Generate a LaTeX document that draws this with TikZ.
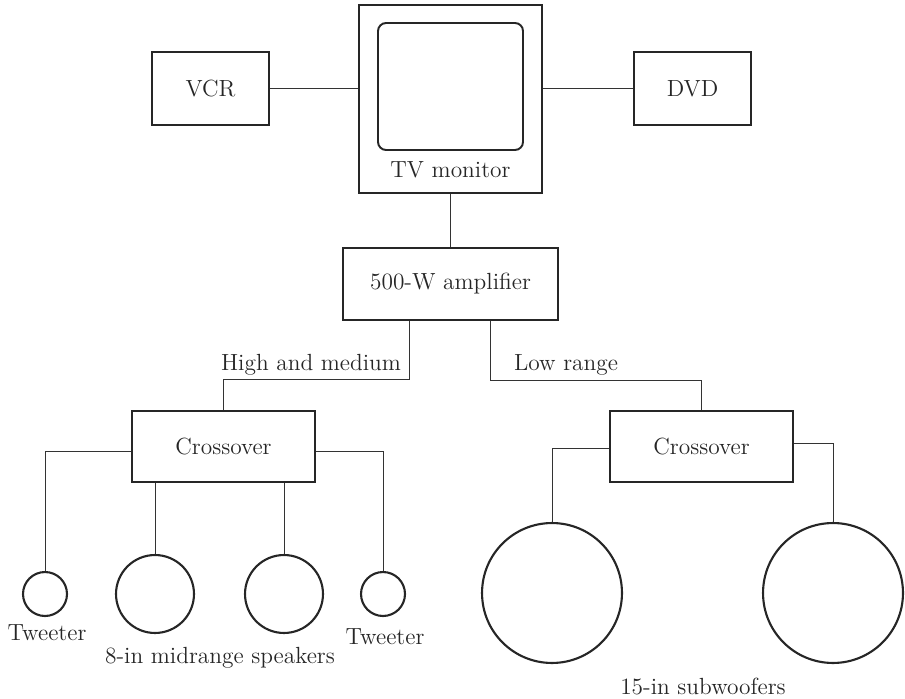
\documentclass[tikz,border=0pt]{standalone}
\usetikzlibrary{calc}
\begin{document}
\begin{tikzpicture}[x=0.02cm, y=-0.02cm,
    unit/.style={draw=black!85, line width=1.1pt, minimum width=#1*0.02cm, inner sep=0pt},
    spk/.style={draw=black!85, circle, line width=1.2pt, minimum size=#1*0.04cm, inner sep=0pt},
    wire/.style={draw=black!80, line width=0.55pt},
    lbl/.style={font=\fontsize{13.3}{16}\selectfont, text=black!85, inner sep=0pt}]
    \useasboundingbox (0,0) rectangle (905,699);

    % Video sources & TV monitor
    \node[unit=117, minimum height=1.46cm, lbl, draw] (vcr) at (210.5,88.5) {VCR};
    \node[unit=117, minimum height=1.46cm, lbl, draw] (dvd) at (692.5,88.5) {DVD};
    \node[unit=183, minimum height=3.76cm] (tv) at (450.5,99) {};
    \node[draw=black!85, line width=1.1pt, rounded corners=0.16cm, minimum width=2.9cm, minimum height=2.54cm] (screen) at (450.5,86.5) {};
    \node[lbl] (tvlbl) at (450.5,170) {TV monitor};

    \draw[wire] (vcr.east) -- (vcr.east -| tv.west);
    \draw[wire] (dvd.west) -- (dvd.west -| tv.east);

    % Amplifier
    \node[unit=215, minimum height=1.44cm, lbl, draw] (amp) at (450.5,284) {500-W amplifier};
    \draw[wire] (tv.south) -- (amp.south |- tv.south) -- (amp.north);

    % Crossovers
    \node[unit=183, minimum height=1.42cm, lbl, draw] (xl) at (223.5,446.5) {Crossover};
    \node[unit=183, minimum height=1.42cm, lbl, draw] (xr) at (701.5,446.5) {Crossover};

    \draw[wire] ($(amp.south)+(-41.5,0)$) -- ($(amp.south)+(-41.5,59)$) -| (xl.north);
    \draw[wire] ($(amp.south)+(39.5,0)$) -- ($(amp.south)+(39.5,60)$) -| (xr.north);
    \node[lbl] (hmlbl) at (311,365) {High and medium};
    \node[lbl] (lrlbl) at (566,365) {Low range};

    % Speakers (left)
    \node[spk=22] (twl) at (45,594) {};
    \node[spk=39] (midl) at (155,594) {};
    \node[spk=39] (midr) at (284,594) {};
    \node[spk=22] (twr) at (383,594) {};

    \draw[wire] ($(xl.west)+(0,4.5)$) -| (twl.north);
    \draw[wire] ($(xl.east)+(0,4.5)$) -| (twr.north);
    \draw[wire] (midl.north |- xl.south) -- (midl.north);
    \draw[wire] (midr.north |- xl.south) -- (midr.north);

    \node[lbl] (twllbl) at (47,633) {Tweeter};
    \node[lbl] (twrlbl) at (385,637) {Tweeter};
    \node[lbl] (midlbl) at (220,658) {8-in midrange speakers};

    % Subwoofers (right)
    \node[spk=70] (subl) at (552,593) {};
    \node[spk=70] (subr) at (833,593) {};

    \draw[wire] ($(xr.west)+(0,1.5)$) -| (subl.north);
    \draw[wire] ($(xr.east)+(0,-3.5)$) -| (subr.north);

    \node[lbl] (sublbl) at (703,687) {15-in subwoofers};
\end{tikzpicture}
\end{document}
